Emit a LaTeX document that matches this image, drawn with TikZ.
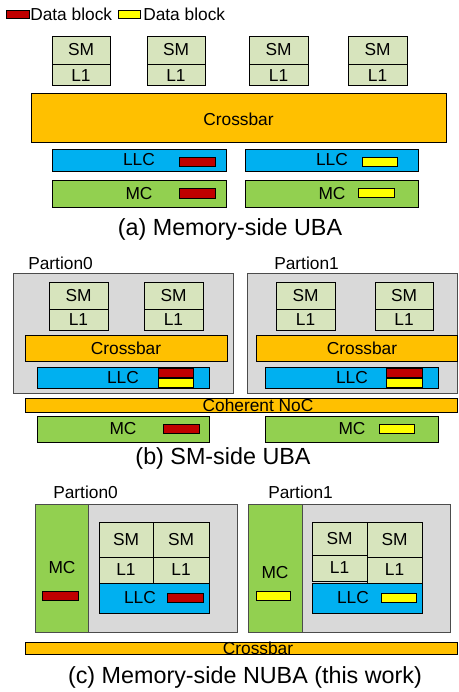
\documentclass[tikz,border=0pt]{standalone}
\usepackage{fontspec}
\setmainfont{Liberation Sans}
\usetikzlibrary{fit}
\definecolor{smc}{HTML}{D7E4BD}
\definecolor{xbc}{HTML}{FFC000}
\definecolor{llcc}{HTML}{00B0F0}
\definecolor{mcc}{HTML}{92D050}
\definecolor{redc}{HTML}{C00000}
\definecolor{yelc}{HTML}{FFFF00}
\definecolor{partc}{HTML}{D9D9D9}
\tikzset{
 bx/.style={draw=black, line width=0.6pt, inner sep=0pt, outer sep=0pt},
 smbox/.style={bx, fill=smc},
 xbar/.style={bx, fill=xbc},
 llcbox/.style={bx, fill=llcc},
 mcbox/.style={bx, fill=mcc},
 part/.style={bx, draw=black!70, fill=partc},
 rblk/.style={bx, fill=redc},
 yblk/.style={bx, fill=yelc},
 lbl/.style={font=\fontsize{13}{15}\selectfont, inner sep=0pt},
 captxt/.style={font=\fontsize{17.5}{20}\selectfont, inner sep=0pt},
}
\begin{document}
\begin{tikzpicture}[x=0.75pt,y=-0.75pt]
\useasboundingbox (0,0) rectangle (458,692);
% legend
\node[rblk, fit={(6,10)(29,18)}] (lr) {};
\node[lbl, anchor=west] (lrt) at (30,14) {Data block};
\node[yblk, fit={(118,10)(140,18)}] (ly) {};
\node[lbl, anchor=west] (lyt) at (143,14) {Data block};
% (a)
\node[smbox, fit={(52,36)(110,64)}] (asm1) {};
\node[smbox, fit={(52,64)(110,85)}] (al1) {};
\node[smbox, fit={(147,36)(205,64)}] (asm2) {};
\node[smbox, fit={(147,64)(205,85)}] (al2) {};
\node[smbox, fit={(249,36)(308,64)}] (asm3) {};
\node[smbox, fit={(249,64)(308,85)}] (al3) {};
\node[smbox, fit={(348,36)(407,64)}] (asm4) {};
\node[smbox, fit={(348,64)(407,85)}] (al4) {};
\foreach \n in {1,2,3,4}{
  \node[lbl] (asm\n t) at ([yshift=0.6pt]asm\n.center) {SM};
  \node[lbl] (al\n t) at ([yshift=-0.6pt]al\n.center) {L1};
}
\node[xbar, fit={(31,93)(446,142)}] (axb) {};
\node[lbl] (axbt) at ([yshift=-1.5pt]axb.center) {Crossbar};
\node[llcbox, fit={(52,149)(226,171)}] (allc1) {};
\node[lbl] (allc1t) at (139,160) {LLC};
\node[rblk, fit={(179,157)(215,166)}] (allc1b) {};
\node[llcbox, fit={(245,149)(418,171)}] (allc2) {};
\node[lbl] (allc2t) at (332,160) {LLC};
\node[yblk, fit={(362,157)(397,166)}] (allc2b) {};
\node[mcbox, fit={(52,180)(226,207)}] (amc1) {};
\node[lbl] (amc1t) at (139,193.5) {MC};
\node[rblk, fit={(179,188)(215,198)}] (amc1b) {};
\node[mcbox, fit={(245,180)(418,207)}] (amc2) {};
\node[lbl] (amc2t) at (332,193.5) {MC};
\node[yblk, fit={(358,188)(394,197)}] (amc2b) {};
\node[captxt] (capa) at (230,229) {(a) Memory-side UBA};
% (b)
\node[lbl, anchor=west] (bp0) at (28,263) {Partion0};
\node[lbl, anchor=west] (bp1) at (274,263) {Partion1};
\node[part, fit={(13,273)(233,393)}] (bpart0) {};
\node[part, fit={(247,273)(457.5,393)}] (bpart1) {};
\node[smbox, fit={(49,282)(108,309)}] (bsm1) {};
\node[smbox, fit={(49,309)(108,330)}] (bl1) {};
\node[smbox, fit={(144,282)(203,309)}] (bsm2) {};
\node[smbox, fit={(144,309)(203,330)}] (bl2) {};
\node[smbox, fit={(276,282)(335,309)}] (bsm3) {};
\node[smbox, fit={(276,309)(335,330)}] (bl3) {};
\node[smbox, fit={(375,282)(433,309)}] (bsm4) {};
\node[smbox, fit={(375,309)(433,330)}] (bl4) {};
\foreach \n in {1,2,3,4}{
  \node[lbl] (bsm\n t) at (bsm\n.center) {SM};
  \node[lbl] (bl\n t) at (bl\n.center) {L1};
}
\node[xbar, fit={(25,335)(227,361)}] (bxb0) {};
\node[lbl] (bxb0t) at (bxb0.center) {Crossbar};
\node[xbar, fit={(256,335)(457.5,361)}] (bxb1) {};
\node[lbl] (bxb1t) at (362,348) {Crossbar};
\node[llcbox, fit={(37,367)(209,388)}] (bllc0) {};
\node[lbl] (bllc0t) at (123,377.5) {LLC};
\node[rblk, fit={(158,368)(193,377)}] (bllc0r) {};
\node[yblk, fit={(158,378)(193,387)}] (bllc0y) {};
\node[llcbox, fit={(265,367)(438,388)}] (bllc1) {};
\node[lbl] (bllc1t) at (352,377.5) {LLC};
\node[rblk, fit={(386,368)(422,377)}] (bllc1r) {};
\node[yblk, fit={(386,378)(422,387)}] (bllc1y) {};
\node[xbar, fit={(25,398)(457.5,412)}] (bnoc) {};
\node[lbl] (bnoct) at (258,405) {Coherent NoC};
\node[mcbox, fit={(37,416)(209,442)}] (bmc0) {};
\node[lbl] (bmc0t) at (123,429) {MC};
\node[rblk, fit={(163,424)(199,433)}] (bmc0b) {};
\node[mcbox, fit={(265,416)(438,442)}] (bmc1) {};
\node[lbl] (bmc1t) at (352,429) {MC};
\node[yblk, fit={(379,424)(414,433)}] (bmc1b) {};
\node[captxt] (capb) at (223,458) {(b) SM-side UBA};
% (c)
\node[lbl, anchor=west] (cp0) at (53,492) {Partion0};
\node[lbl, anchor=west] (cp1) at (268,492) {Partion1};
\node[part, fit={(35,504)(237,632)}] (cpart0) {};
\node[mcbox, draw=black!70, fit={(35,504)(88,632)}] (cmc0) {};
\node[lbl] (cmc0t) at (62,568) {MC};
\node[rblk, fit={(42,591)(78,600)}] (cmc0b) {};
\node[part, fit={(248,504)(450,632)}] (cpart1) {};
\node[mcbox, draw=black!70, fit={(248,504)(302,632)}] (cmc1) {};
\node[lbl] (cmc1t) at (275,573) {MC};
\node[yblk, fit={(256,591)(290,600)}] (cmc1b) {};
\node[smbox, fit={(99,522)(153,557)}] (csm1) {};
\node[smbox, fit={(153,522)(209,557)}] (csm2) {};
\node[smbox, fit={(99,557)(153,583)}] (cl1) {};
\node[smbox, fit={(153,557)(209,583)}] (cl2) {};
\node[smbox, fit={(312,522)(367,555)}] (csm3) {};
\node[smbox, fit={(367,522)(422,557)}] (csm4) {};
\node[smbox, fit={(312,555)(367,581)}] (cl3) {};
\node[smbox, fit={(367,557)(422,583)}] (cl4) {};
\foreach \n in {1,2,3,4}{
  \node[lbl] (csm\n t) at (csm\n.center) {SM};
  \node[lbl] (cl\n t) at (cl\n.center) {L1};
}
\node[llcbox, fit={(99,583)(209,613)}] (cllc0) {};
\node[lbl] (cllc0t) at (140,598) {LLC};
\node[rblk, fit={(167,593)(203,602)}] (cllc0b) {};
\node[llcbox, fit={(312,583)(422,613)}] (cllc1) {};
\node[lbl] (cllc1t) at (353,598) {LLC};
\node[yblk, fit={(381,593)(416,602)}] (cllc1b) {};
\node[xbar, fit={(25,642)(457,654)}] (cxb) {};
\node[lbl] (cxbt) at (258,648) {Crossbar};
\node[captxt] (capc) at (245,677) {(c) Memory-side NUBA (this work)};
\end{tikzpicture}
\end{document}
